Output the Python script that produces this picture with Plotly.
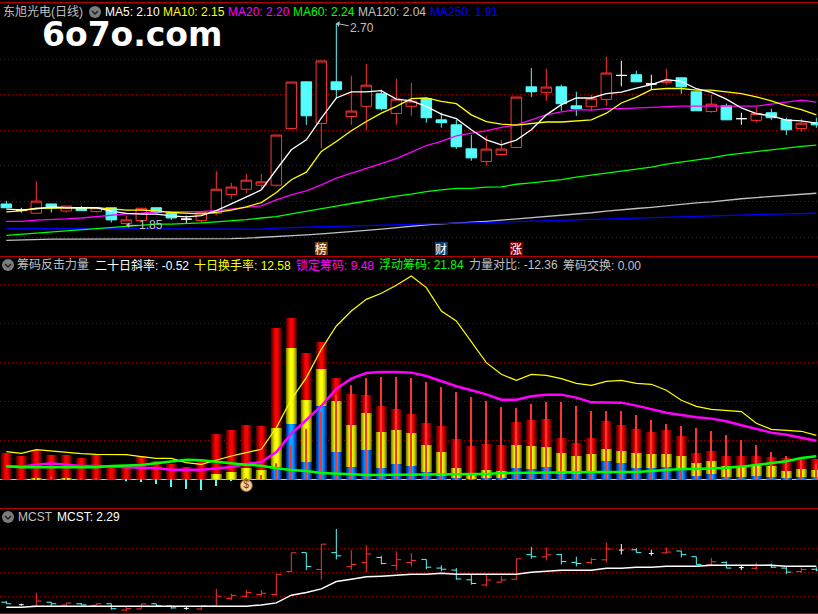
import plotly.graph_objects as go

# daily bars, index 0 is the leftmost candle on screen
days = list(range(55))

opens = [1.940, 1.914, 1.901, 1.940, 1.910, 1.924, 1.908, 1.924, 1.858, 1.870, 1.924, 1.901, 1.876, 1.870,
         1.901, 1.980, 2.002, 2.019, 2.019, 2.258, 2.454, 2.279, 2.454, 2.308, 2.351, 2.404, 2.321, 2.351,
         2.384, 2.294, 2.273, 2.172, 2.119, 2.148, 2.178, 2.433, 2.410, 2.433, 2.353, 2.351, 2.380, 2.481,
         2.484, 2.445, 2.452, 2.471, 2.412, 2.329, 2.353, 2.299, 2.292, 2.324, 2.294, 2.258, 2.282]
highs = [1.953, 1.924, 2.036, 1.940, 1.931, 1.932, 1.924, 1.924, 1.890, 1.922, 1.924, 1.907, 1.891, 1.904,
         2.078, 2.029, 2.067, 2.067, 2.230, 2.453, 2.454, 2.542, 2.700, 2.480, 2.529, 2.421, 2.467, 2.450,
         2.384, 2.324, 2.294, 2.231, 2.227, 2.210, 2.390, 2.512, 2.509, 2.442, 2.412, 2.400, 2.560, 2.543,
         2.501, 2.484, 2.509, 2.471, 2.412, 2.400, 2.362, 2.324, 2.349, 2.341, 2.303, 2.299, 2.303]
lows = [1.924, 1.904, 1.901, 1.904, 1.904, 1.912, 1.904, 1.862, 1.850, 1.870, 1.901, 1.873, 1.860, 1.860,
        1.894, 1.962, 1.984, 2.002, 2.013, 2.254, 2.273, 2.174, 2.384, 2.273, 2.252, 2.334, 2.273, 2.311,
        2.282, 2.261, 2.172, 2.122, 2.101, 2.144, 2.174, 2.391, 2.374, 2.332, 2.311, 2.334, 2.353, 2.435,
        2.454, 2.421, 2.442, 2.404, 2.332, 2.324, 2.294, 2.273, 2.283, 2.294, 2.231, 2.244, 2.261]
closes = [1.924, 1.914, 1.952, 1.924, 1.931, 1.912, 1.924, 1.873, 1.873, 1.922, 1.904, 1.881, 1.876, 1.904,
          2.002, 2.011, 2.040, 2.033, 2.230, 2.453, 2.311, 2.542, 2.421, 2.331, 2.440, 2.341, 2.381, 2.373,
          2.303, 2.282, 2.181, 2.134, 2.171, 2.171, 2.390, 2.412, 2.432, 2.362, 2.341, 2.383, 2.491, 2.481,
          2.454, 2.445, 2.460, 2.433, 2.332, 2.360, 2.294, 2.299, 2.321, 2.303, 2.252, 2.280, 2.273]

ma5 = [1.918, 1.915, 1.919, 1.928, 1.924, 1.924, 1.924, 1.910, 1.900, 1.897, 1.897, 1.890, 1.886, 1.891,
       1.912, 1.940, 1.971, 1.999, 2.084, 2.168, 2.210, 2.301, 2.386, 2.412, 2.412, 2.417, 2.381, 2.374,
       2.351, 2.318, 2.299, 2.252, 2.210, 2.189, 2.209, 2.252, 2.315, 2.358, 2.386, 2.386, 2.404, 2.411,
       2.428, 2.442, 2.463, 2.456, 2.425, 2.410, 2.381, 2.344, 2.320, 2.311, 2.293, 2.290, 2.280]
ma10 = [1.907, 1.911, 1.922, 1.922, 1.924, 1.925, 1.925, 1.919, 1.914, 1.914, 1.911, 1.904, 1.901, 1.898,
        1.905, 1.914, 1.928, 1.946, 1.988, 2.042, 2.074, 2.161, 2.203, 2.248, 2.287, 2.322, 2.351, 2.383,
        2.386, 2.372, 2.362, 2.315, 2.287, 2.276, 2.272, 2.278, 2.285, 2.285, 2.290, 2.294, 2.322, 2.365,
        2.390, 2.421, 2.426, 2.426, 2.419, 2.419, 2.412, 2.404, 2.391, 2.374, 2.353, 2.337, 2.315]
ma20 = [1.867, 1.867, 1.872, 1.873, 1.877, 1.881, 1.887, 1.894, 1.898, 1.901, 1.907, 1.908, 1.908, 1.908,
        1.912, 1.918, 1.926, 1.932, 1.957, 1.978, 1.995, 2.020, 2.049, 2.070, 2.091, 2.112, 2.131, 2.158,
        2.186, 2.203, 2.227, 2.238, 2.248, 2.262, 2.273, 2.294, 2.315, 2.328, 2.337, 2.335, 2.341, 2.341,
        2.344, 2.346, 2.351, 2.352, 2.352, 2.352, 2.351, 2.349, 2.352, 2.360, 2.370, 2.377, 2.369]
ma60 = [1.808, 1.813, 1.818, 1.822, 1.827, 1.831, 1.838, 1.841, 1.848, 1.852, 1.855, 1.855, 1.856, 1.860,
        1.865, 1.869, 1.874, 1.881, 1.887, 1.898, 1.908, 1.918, 1.931, 1.942, 1.953, 1.962, 1.973, 1.981,
        1.992, 1.999, 2.006, 2.006, 2.011, 2.012, 2.023, 2.029, 2.036, 2.042, 2.053, 2.061, 2.070, 2.080,
        2.087, 2.095, 2.108, 2.116, 2.126, 2.134, 2.146, 2.154, 2.162, 2.168, 2.175, 2.182, 2.188]
ma120 = [1.787, 1.789, 1.792, 1.792, 1.792, 1.792, 1.792, 1.792, 1.792, 1.792, 1.792, 1.792, 1.792, 1.792,
         1.793, 1.794, 1.796, 1.799, 1.801, 1.806, 1.810, 1.814, 1.820, 1.824, 1.829, 1.834, 1.841, 1.848,
         1.852, 1.856, 1.859, 1.863, 1.867, 1.872, 1.877, 1.881, 1.887, 1.891, 1.898, 1.903, 1.910, 1.914,
         1.921, 1.926, 1.933, 1.939, 1.945, 1.949, 1.957, 1.962, 1.967, 1.971, 1.977, 1.981, 1.985]
ma250 = [1.837, 1.837, 1.837, 1.837, 1.837, 1.834, 1.834, 1.834, 1.834, 1.834, 1.834, 1.834, 1.834, 1.834,
         1.834, 1.834, 1.834, 1.834, 1.838, 1.839, 1.842, 1.844, 1.846, 1.848, 1.849, 1.851, 1.852, 1.855,
         1.856, 1.858, 1.859, 1.860, 1.862, 1.863, 1.865, 1.866, 1.869, 1.872, 1.873, 1.876, 1.877, 1.880,
         1.881, 1.884, 1.886, 1.887, 1.888, 1.891, 1.893, 1.894, 1.896, 1.897, 1.898, 1.900, 1.901]

# stacked chip bars: cumulative tops of blue, yellow and red parts
blue_top = [0] * 18 + [3.16, 14.19, 4.44, 18.80, 7.01, 3.16, 7.52, 2.91, 3.93, 3.42, 1.88, 0.85, 0.34, 0.09,
                       0.34, 0.34, 2.91, 2.65, 3.16, 1.37, 1.37, 2.14, 4.70, 4.19, 2.91, 2.91, 3.16, 2.39,
                       0.85, 1.37, 0.60, 0.60, 0.85, 0.60, 0.34, 0.60, 0.60]
yellow_top = [0, 0, 0.34, 0, 0.34, 0, 0, 0, 0, 0, 0, 0, 0, 0, 1.37, 1.88, 2.91, 2.39, 13.16, 33.68, 20.34, 28.29,
              20.09, 13.93, 17.01, 12.14, 12.65, 11.88, 8.80, 7.01, 2.91, 1.11, 2.39, 2.14, 8.80, 8.55, 8.29,
              6.75, 5.98, 6.50, 7.78, 7.26, 6.75, 6.50, 6.50, 5.98, 4.19, 4.70, 3.42, 3.16, 3.68, 3.42, 2.14,
              2.65, 2.39]
red_top = [6.75, 5.98, 7.52, 6.24, 6.24, 5.47, 6.24, 3.42, 3.42, 5.98, 4.70, 3.93, 3.16, 4.96, 11.62, 12.65,
           13.93, 13.68, 38.80, 41.37, 32.39, 35.21, 25.98, 21.88, 21.62, 18.80, 18.03, 16.75, 14.44, 13.68,
           10.34, 8.55, 9.06, 8.80, 14.70, 15.21, 15.47, 10.60, 9.32, 10.60, 14.96, 13.93, 12.91, 12.14, 12.65,
           11.11, 6.75, 7.26, 5.98, 5.98, 5.98, 5.73, 5.47, 5.21, 5.21]
power_sticks = [0, 0, 0.43, 0.77, 0.51, 0.34, 0.2, 0, -0.51, -0.68, -1.2, -1.97, -2.48, -2.74, -1.71, -0.43,
                0.2, 1.11, 4.10, 8.72, 12.99, 17.26, 21.54, 24.10, 25.98, 26.24, 26.24, 25.98, 24.96, 23.68,
                22.39, 21.11, 20.09, 18.55, 18.29, 19.32, 19.83, 19.83, 18.80, 17.52, 17.52, 17.52, 16.50,
                15.21, 14.19, 13.68, 13.16, 12.39, 11.37, 10.09, 8.80, 7.01, 5.98, 4.96, 4.00]
turnover10 = [7.09, 6.67, 7.61, 7.26, 6.84, 6.58, 6.41, 6.41, 6.32, 5.81, 5.38, 5.38, 4.27, 3.85, 4.96, 5.98,
              6.84, 7.69, 13.25, 20.51, 26.07, 33.33, 39.32, 43.16, 46.15, 47.69, 49.74, 52.14, 49.15, 43.16,
              40.60, 35.21, 29.91, 26.92, 25.38, 26.92, 26.67, 25.81, 24.62, 24.10, 25.13, 25.38, 24.62, 24.36,
              22.82, 20.26, 18.72, 17.95, 17.69, 17.35, 14.36, 12.82, 12.56, 12.31, 11.28]
locked = [3.25, 3.25, 3.76, 4.02, 3.76, 3.42, 3.42, 3.25, 2.99, 2.99, 2.91, 2.48, 2.48, 2.48, 2.74, 3.16, 3.93,
          4.44, 7.01, 11.71, 15.21, 18.80, 23.25, 25.81, 27.26, 27.52, 27.52, 27.35, 26.50, 25.13, 23.85, 22.82,
          21.79, 20.43, 20.43, 21.28, 21.71, 21.71, 20.94, 19.74, 19.66, 19.66, 18.89, 17.95, 17.09, 16.50,
          15.90, 15.56, 14.87, 13.85, 12.91, 11.97, 11.45, 10.60, 9.91]
floating = [3.33, 3.08, 3.08, 3.08, 3.08, 3.08, 3.08, 3.42, 3.59, 3.68, 4.10, 4.62, 5.04, 4.87, 4.44, 4.02, 3.76,
            3.50, 2.82, 2.39, 2.14, 1.62, 1.37, 1.28, 1.11, 1.11, 1.11, 1.11, 1.11, 1.11, 1.28, 1.37, 1.37, 1.62,
            1.62, 1.62, 1.62, 1.79, 1.79, 1.88, 1.88, 1.88, 1.88, 2.14, 2.39, 2.65, 2.65, 2.74, 2.99, 3.25, 3.68,
            4.10, 4.62, 5.47, 5.90]
mcst = [1.888, 1.888, 1.899, 1.899, 1.899, 1.899, 1.899, 1.899, 1.899, 1.899, 1.899, 1.899, 1.899, 1.899, 1.899,
        1.899, 1.899, 1.912, 1.933, 2.013, 2.040, 2.078, 2.154, 2.178, 2.203, 2.210, 2.220, 2.230, 2.230, 2.241,
        2.230, 2.230, 2.230, 2.230, 2.230, 2.251, 2.261, 2.272, 2.272, 2.272, 2.292, 2.292, 2.303, 2.303, 2.313,
        2.313, 2.313, 2.323, 2.323, 2.323, 2.323, 2.323, 2.313, 2.313, 2.313]

price_grid = [1.80, 1.95, 2.10, 2.25, 2.40, 2.55]
power_grid = [10, 20, 30, 40, 50]
mcst_grid = [2.00, 2.25, 2.50]

RED = "#ff3232"
CYAN = "#54fcfc"
GRID = "#a00000"
TEXT_FONT = "Liberation Sans, Noto Sans CJK SC"
W, H = 818, 614


def px(x):
    return x / W


def py(y):
    return 1 - y / H


doji = [i for i in days if opens[i] == closes[i]]
plain = [i for i in days if opens[i] != closes[i]]


def pick(values, idx):
    return [values[i] for i in idx]


fig = go.Figure()

# top pane: candles and moving averages
fig.add_trace(go.Candlestick(
    x=plain, open=pick(opens, plain), high=pick(highs, plain), low=pick(lows, plain), close=pick(closes, plain),
    increasing=dict(line=dict(color=RED, width=1), fillcolor="#000000"),
    decreasing=dict(line=dict(color=CYAN, width=1), fillcolor=CYAN),
    whiskerwidth=0, yaxis="y", showlegend=False))
fig.add_trace(go.Candlestick(
    x=doji, open=pick(opens, doji), high=pick(highs, doji), low=pick(lows, doji), close=pick(closes, doji),
    increasing=dict(line=dict(color="#ffffff", width=1), fillcolor="#ffffff"),
    decreasing=dict(line=dict(color="#ffffff", width=1), fillcolor="#ffffff"),
    whiskerwidth=0, yaxis="y", showlegend=False))

ma_lines = [(ma120, "#c0c0c0"), (ma250, "#0000ff"), (ma60, "#00ff00"), (ma20, "#ff00ff"), (ma10, "#ffff00"), (ma5, "#ffffff")]
for values, color in ma_lines:
    fig.add_trace(go.Scatter(x=days, y=values, mode="lines", line=dict(color=color, width=1.3),
                             yaxis="y", showlegend=False))

# middle pane: shaded bars, each part drawn as nested bars from dark edge to bright centre
segments = [
    ([0] * 55, blue_top, ["#003088", "#0048b8", "#0068e0", "#0088ff", "#10a8ff"]),
    (blue_top, yellow_top, ["#808000", "#a8a800", "#d0d000", "#eaea00", "#ffff00"]),
    (yellow_top, red_top, ["#5a0000", "#800000", "#a80000", "#d80000", "#ff0000"]),
]
for bottom, top, shades in segments:
    height = [t - b for t, b in zip(top, bottom)]
    for level, shade in enumerate(shades):
        fig.add_trace(go.Bar(x=days, y=height, base=bottom, width=(11 - 2 * level) / 15,
                             marker=dict(color=shade, line=dict(width=0)), yaxis="y2", showlegend=False))

fig.add_trace(go.Bar(x=days, y=power_sticks, width=1 / 15,
                     marker=dict(color=[RED if v >= 0 else CYAN for v in power_sticks], line=dict(width=0)),
                     yaxis="y2", showlegend=False))
fig.add_trace(go.Scatter(x=days, y=turnover10, mode="lines", line=dict(color="#ffff00", width=1.2),
                         yaxis="y2", showlegend=False))
fig.add_trace(go.Scatter(x=days, y=locked, mode="lines", line=dict(color="#ff00ff", width=2.5),
                         yaxis="y2", showlegend=False))
fig.add_trace(go.Scatter(x=days, y=floating, mode="lines", line=dict(color="#00ff00", width=2.5),
                         yaxis="y2", showlegend=False))

# money bag signal under the bars
fig.add_trace(go.Scatter(x=[16], y=[-0.3], mode="markers", marker=dict(symbol="triangle-up", size=6, color="#b07830"),
                         yaxis="y2", showlegend=False))
fig.add_trace(go.Scatter(x=[16], y=[-1.6], mode="markers+text", text=["$"], textposition="middle center",
                         textfont=dict(family="Liberation Sans", size=10, color="#7a3a00"),
                         marker=dict(symbol="circle", size=12, color="#f4d090", line=dict(color="#9a6020", width=1)),
                         yaxis="y2", showlegend=False))

# bottom pane: OHLC bars with the cost line
fig.add_trace(go.Ohlc(
    x=plain, open=pick(opens, plain), high=pick(highs, plain), low=pick(lows, plain), close=pick(closes, plain),
    increasing=dict(line=dict(color=RED, width=1)), decreasing=dict(line=dict(color=CYAN, width=1)),
    tickwidth=0.33, yaxis="y3", showlegend=False))
fig.add_trace(go.Ohlc(
    x=doji, open=pick(opens, doji), high=pick(highs, doji), low=pick(lows, doji), close=pick(closes, doji),
    increasing=dict(line=dict(color="#ffffff", width=1)), decreasing=dict(line=dict(color="#ffffff", width=1)),
    tickwidth=0.165, yaxis="y3", showlegend=False))
fig.add_trace(go.Scatter(x=days, y=mcst, mode="lines", line=dict(color="#ffffff", width=1.5),
                         yaxis="y3", showlegend=False))


def grid_axis(top, bottom, rng, ticks):
    return dict(domain=[py(bottom), py(top)], range=rng, tickvals=ticks, showticklabels=False, ticks="",
                showline=False, zeroline=False, showgrid=True, gridcolor=GRID, griddash="1px,3px", gridwidth=1,
                fixedrange=True)


fig.update_layout(
    width=W, height=H, margin=dict(l=0, r=0, t=0, b=0),
    paper_bgcolor="#000000", plot_bgcolor="#000000",
    barmode="overlay", boxgap=0.3, boxgroupgap=0, boxmode="overlay",
    showlegend=False,
    font=dict(family=TEXT_FONT, size=12, color="#c0c0c0"),
    xaxis=dict(range=[-0.42, 54.11], visible=False, rangeslider=dict(visible=False), fixedrange=True),
    yaxis=grid_axis(2, 256, [1.721, 2.79], price_grid),
    yaxis2=grid_axis(256, 508, [-7.36, 57.26], power_grid),
    yaxis3=grid_axis(508, 613.5, [1.823, 2.917], mcst_grid),
)
fig.update_layout(yaxis2=dict(zeroline=True, zerolinecolor="#c8c8c8", zerolinewidth=1))

# pane borders
for y in [2.5, 256.5, 508.5, 613.5]:
    fig.add_shape(type="line", xref="paper", yref="paper", x0=0, x1=1, y0=py(y), y1=py(y),
                  line=dict(color="#b00000", width=1))

# legend strips
legend_rows = [
    (12, [(3, "东旭光电(日线)", "#c0c0c0"), (105, "MA5: 2.10", "#ffffff"), (163, "MA10: 2.15", "#ffff00"),
          (228, "MA20: 2.20", "#ff00ff"), (293, "MA60: 2.24", "#00ff00"), (358, "MA120: 2.04", "#c0c0c0"),
          (430, "MA250: 1.91", "#0000ff")]),
    (265, [(17, "筹码反击力量", "#c0c0c0"), (95, "二十日斜率: -0.52", "#ffffff"), (194, "十日换手率: 12.58", "#ffff00"),
           (296, "锁定筹码: 9.48", "#ff00ff"), (379, "浮动筹码: 21.84", "#00ff00"),
           (469, "力量对比: -12.36", "#c0c0c0"), (563, "筹码交换: 0.00", "#c0c0c0")]),
    (517, [(18, "MCST", "#c0c0c0"), (57, "MCST: 2.29", "#ffffff")]),
]
for y, items in legend_rows:
    for x, label, color in items:
        fig.add_annotation(xref="paper", yref="paper", x=px(x), y=py(y), text=label, showarrow=False,
                           xanchor="left", yanchor="middle", xshift=-2,
                           font=dict(family=TEXT_FONT, size=12, color=color))

# little dropdown buttons beside the legends
for cx, cy in [(95, 12), (8, 265), (8, 517)]:
    fig.add_shape(type="circle", xref="paper", yref="paper", x0=px(cx - 6), x1=px(cx + 6), y0=py(cy + 6), y1=py(cy - 6),
                  fillcolor="#7c7c7c", line=dict(width=0))
    fig.add_shape(type="path", xref="paper", yref="paper",
                  path=f"M {px(cx - 3)} {py(cy - 1)} L {px(cx)} {py(cy + 2)} L {px(cx + 3)} {py(cy - 1)}",
                  line=dict(color="#202020", width=1.5))

# site mark
fig.add_annotation(xref="paper", yref="paper", x=px(132), y=py(33.5), text="<b>6o7o.com</b>", showarrow=False,
                   xanchor="center", yanchor="middle", height=30,
                   font=dict(family="DejaVu Sans", size=33, color="#ffffff"))

# high and low flags on the candles
fig.add_annotation(x=22, y=2.70, xref="x", yref="y", text="2.70", ax=26, ay=5, arrowcolor="#c0c0c0", arrowwidth=1,
                   arrowhead=1, standoff=0, font=dict(family=TEXT_FONT, size=12, color="#c0c0c0"))
fig.add_annotation(x=8, y=1.85, xref="x", yref="y", text="1.85", ax=25, ay=0, arrowcolor="#c0c0c0", arrowwidth=1,
                   arrowhead=1, standoff=0, font=dict(family=TEXT_FONT, size=12, color="#c0c0c0"))

# event tags under the candles
for day, tag, bg in [(21, "榜", "#7a3e08"), (29, "财", "#0f3f70"), (34, "涨", "#800000")]:
    fig.add_shape(type="rect", xref="x", yref="paper", x0=day - 0.43, x1=day + 0.43, y0=py(255), y1=py(242),
                  fillcolor=bg, line=dict(width=0))
    fig.add_annotation(x=day, xref="x", yref="paper", y=py(248.5), text=tag, showarrow=False, height=13,
                       font=dict(family="Noto Sans CJK SC", size=12, color="#ffffff"), xanchor="center", yanchor="middle")

fig.write_html("out.html", config=dict(displayModeBar=False),
               post_script="document.body.style.margin='0';document.body.style.background='#000';")
